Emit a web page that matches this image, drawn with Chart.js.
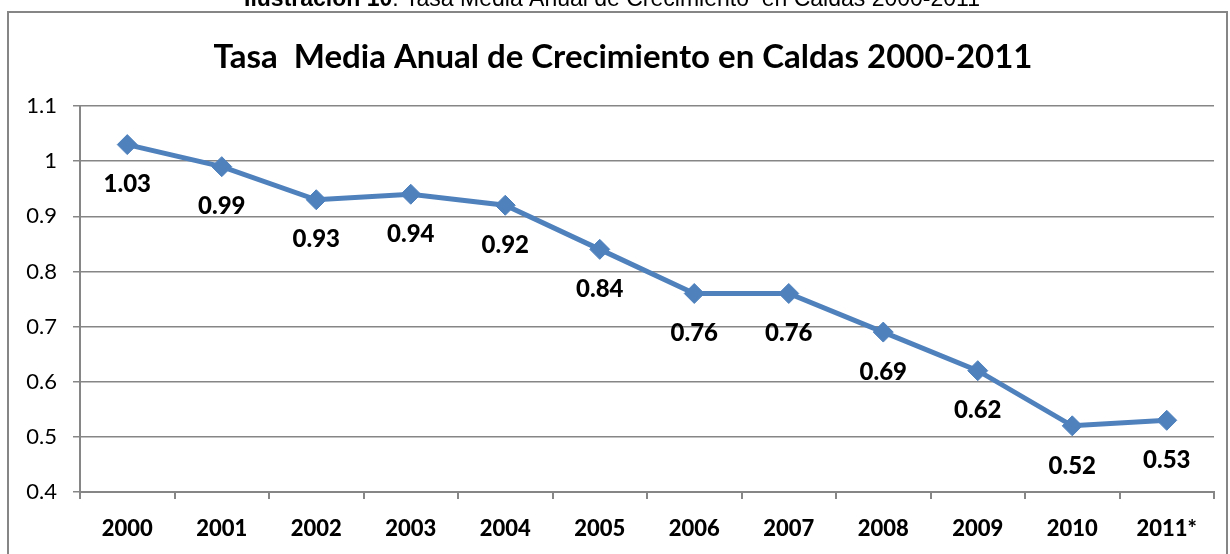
<!DOCTYPE html>
<html>
<head>
<meta charset="utf-8">
<script src="https://cdn.jsdelivr.net/npm/chart.js@4.4.1/dist/chart.umd.min.js"></script>
<style>
  html, body { margin: 0; padding: 0; background: #fff; }
  #wrap { position: relative; width: 1230px; height: 554px; }
</style>
</head>
<body>
<div id="wrap"><canvas id="chart" width="1230" height="554"></canvas></div>
<script>
// Tasa media anual de crecimiento, Caldas
const YEARS = ['2000', '2001', '2002', '2003', '2004', '2005', '2006', '2007', '2008', '2009', '2010', '2011*'];
const RATES = [1.03, 0.99, 0.93, 0.94, 0.92, 0.84, 0.76, 0.76, 0.69, 0.62, 0.52, 0.53];
const Y_MIN = 0.4;
const Y_MAX = 1.1;
const Y_STEP = 0.1;

const BLUE = '#4F81BD';
const GRAY = '#868686';

// marco, pie de figura y título
const framePlugin = {
  id: 'frame',
  beforeDraw(chart) {
    const ctx = chart.ctx;
    ctx.save();
    ctx.strokeStyle = GRAY;
    ctx.lineWidth = 2;
    ctx.strokeRect(8, 12, 1219, 560);

    // pie de figura (cortado arriba)
    const bold = 'Ilustración 10';
    const rest = ': Tasa Media Anual de Crecimiento  en Caldas 2000-2011';
    ctx.fillStyle = '#000';
    ctx.textBaseline = 'alphabetic';
    ctx.font = 'bold 23px "Liberation Sans Narrow", "Liberation Sans", Arial';
    const w1 = ctx.measureText(bold).width;
    ctx.font = '23px "Liberation Sans Narrow", "Liberation Sans", Arial';
    const w2 = ctx.measureText(rest).width;
    const x0 = 612 - (w1 + w2) / 2;
    ctx.font = 'bold 23px "Liberation Sans Narrow", "Liberation Sans", Arial';
    ctx.fillText(bold, x0, 6);
    ctx.font = '23px "Liberation Sans Narrow", "Liberation Sans", Arial';
    ctx.fillText(rest, x0 + w1, 6);

    ctx.font = 'bold 33px Lato, "Open Sans", sans-serif';
    ctx.textAlign = 'center';
    ctx.textBaseline = 'middle';
    ctx.fillText('Tasa  Media Anual de Crecimiento en Caldas 2000-2011', 623, 57);
    ctx.restore();
  }
};

// etiquetas de valor debajo de cada punto
const valueLabels = {
  id: 'valueLabels',
  afterDatasetsDraw(chart) {
    const ctx = chart.ctx;
    const meta = chart.getDatasetMeta(0);
    ctx.save();
    ctx.font = '900 24px Lato, sans-serif';
    ctx.fillStyle = '#000';
    ctx.textAlign = 'center';
    ctx.textBaseline = 'middle';
    meta.data.forEach((pt, i) => {
      ctx.fillText(RATES[i].toFixed(2), pt.x, pt.y + 40);
    });
    ctx.restore();
  }
};

new Chart(document.getElementById('chart'), {
  type: 'line',
  data: {
    labels: YEARS,
    datasets: [{
      data: RATES,
      borderColor: BLUE,
      backgroundColor: BLUE,
      borderWidth: 5,
      pointStyle: 'rectRot',
      pointRadius: 10,
      pointBorderWidth: 1,
      tension: 0,
      fill: false,
    }]
  },
  options: {
    responsive: false,
    animation: false,
    events: [],
    layout: { padding: { left: 0, right: 16, top: 106, bottom: 0 } },
    plugins: {
      legend: { display: false },
      tooltip: { enabled: false },
      title: { display: false },
    },
    scales: {
      x: {
        offset: true,
        grid: { offset: true, drawOnChartArea: false, color: GRAY, lineWidth: 2, tickLength: 7 },
        border: { color: GRAY, width: 2 },
        ticks: { color: '#000', font: { family: 'Lato', size: 22, weight: '900' }, padding: 17 },
        afterFit(s) { s.height = 62; },
      },
      y: {
        min: Y_MIN,
        max: Y_MAX,
        grid: { color: GRAY, lineWidth: 1.5, tickLength: 7 },
        border: { color: GRAY, width: 2 },
        ticks: {
          stepSize: Y_STEP,
          color: '#000',
          font: { family: 'Lato', size: 22 },
          padding: 16,
          callback: v => String(Math.round(v * 10) / 10),
        },
        afterFit(s) { s.width = 80; },
      }
    }
  },
  plugins: [framePlugin, valueLabels]
});
</script>
</body>
</html>
